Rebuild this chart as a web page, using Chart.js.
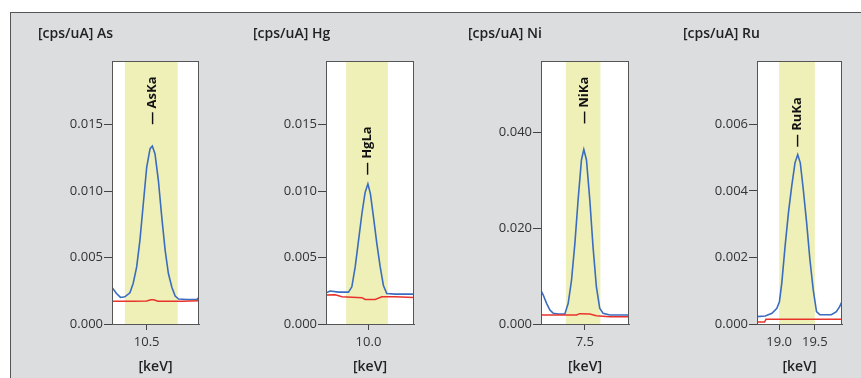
<!DOCTYPE html>
<html>
<head>
<meta charset="utf-8">
<script src="https://cdn.jsdelivr.net/npm/chart.js@4.4.1/dist/chart.umd.min.js"></script>
<style>
  html, body { margin: 0; padding: 0; background: #fff; }
  #panel {
    position: absolute; left: 10px; top: 12px; width: 851px; height: 366px;
    background: #dcdddf; border-top: 1.5px solid #555; border-left: 1.5px solid #555;
    box-sizing: border-box;
  }
  canvas { position: absolute; top: 0; }
</style>
</head>
<body>
<div id="panel"></div>
<canvas id="c0" width="215" height="378" style="left:0px"></canvas>
<canvas id="c1" width="215" height="378" style="left:215px"></canvas>
<canvas id="c2" width="215" height="378" style="left:430px"></canvas>
<canvas id="c3" width="216" height="378" style="left:645px"></canvas>
<script>
// ---- data ----
const elements = ['As', 'Hg', 'Ni', 'Ru'];
const lineNames = ['AsKa', 'HgLa', 'NiKa', 'RuKa'];
const lineEnergy = [10.54, 9.99, 7.5, 19.26];
const lineLabelAt = [0.0150, 0.0112, 0.0418, 0.00531];

const xRange = [[10.254, 10.871], [9.696, 10.326], [7.186, 7.817], [18.69, 19.88]];
const yMax = [0.0198, 0.0198, 0.055, 0.0079];
const xTicks = [[10.5], [10.0], [7.5], [19.0, 19.5]];
const yTicks = [
  [0, 0.005, 0.010, 0.015],
  [0, 0.005, 0.010, 0.015],
  [0, 0.020, 0.040],
  [0, 0.002, 0.004, 0.006]
];
const roiBand = [[10.345, 10.72], [9.84, 10.139], [7.364, 7.612], [19.0, 19.5]];

// As
const asX = [10.254, 10.286, 10.314, 10.345, 10.381, 10.404, 10.429, 10.452, 10.476, 10.5, 10.524, 10.54,
  10.559, 10.583, 10.607, 10.631, 10.654, 10.679, 10.702, 10.726, 10.786, 10.857, 10.871];
const asSample = [0.00275, 0.0023, 0.0020, 0.00205, 0.00235, 0.00305, 0.0043, 0.0063, 0.00905, 0.0118, 0.0132, 0.0134,
  0.0128, 0.0108, 0.00805, 0.00555, 0.0038, 0.00275, 0.0021, 0.00188, 0.00185, 0.00185, 0.0020];
const asBlankX = [10.254, 10.40, 10.50, 10.53, 10.55, 10.58, 10.75, 10.871];
const asBlank = [0.00172, 0.00172, 0.00173, 0.00183, 0.00183, 0.00172, 0.00172, 0.00175];

// Hg
const hgX = [9.696, 9.726, 9.786, 9.857, 9.881, 9.905, 9.929, 9.953, 9.976, 9.996, 10.014, 10.036,
  10.06, 10.084, 10.107, 10.131, 10.19, 10.326];
const hgSample = [0.00235, 0.00248, 0.0024, 0.0024, 0.0028, 0.0043, 0.0063, 0.0083, 0.0099, 0.01055, 0.0098, 0.00805,
  0.00605, 0.0043, 0.0029, 0.0023, 0.00225, 0.00225];
const hgBlankX = [9.696, 9.762, 9.81, 9.953, 9.976, 10.048, 10.096, 10.19, 10.326];
const hgBlank = [0.00218, 0.0022, 0.00205, 0.00198, 0.00185, 0.00185, 0.00205, 0.00205, 0.0020];

// Ni
const niX = [7.186, 7.202, 7.226, 7.25, 7.274, 7.309, 7.357, 7.381, 7.405, 7.429, 7.452, 7.476, 7.493,
  7.512, 7.536, 7.559, 7.583, 7.607, 7.631, 7.679, 7.817];
const niSample = [0.00697, 0.00606, 0.00432, 0.00293, 0.00223, 0.00209, 0.00209, 0.00432, 0.0092, 0.01687, 0.02593, 0.0343, 0.03652,
  0.0343, 0.02593, 0.01617, 0.0078, 0.00328, 0.00223, 0.00188, 0.00188];
const niBlankX = [7.186, 7.441, 7.464, 7.536, 7.583, 7.679, 7.817];
const niBlank = [0.00188, 0.00188, 0.00216, 0.00209, 0.00174, 0.00153, 0.00153];

// Ru
const ruX = [18.69, 18.806, 18.899, 18.968, 19.004, 19.037, 19.083, 19.13, 19.176, 19.222, 19.26, 19.296,
  19.338, 19.385, 19.431, 19.477, 19.523, 19.569, 19.731, 19.801, 19.847, 19.88];
const ruSample = [0.00022, 0.00024, 0.00032, 0.00047, 0.00067, 0.00123, 0.00233, 0.00334, 0.00414, 0.00484, 0.00509, 0.00484,
  0.00404, 0.00304, 0.00193, 0.00103, 0.00037, 0.00028, 0.00028, 0.00037, 0.00052, 0.00067];
const ruBlankX = [18.69, 18.796, 18.815, 19.88];
const ruBlank = [0.00006, 0.00006, 0.00014, 0.00014];

const sampleX = [asX, hgX, niX, ruX];
const sampleY = [asSample, hgSample, niSample, ruSample];
const blankX = [asBlankX, hgBlankX, niBlankX, ruBlankX];
const blankY = [asBlank, hgBlank, niBlank, ruBlank];

// ---- layout ----
const colLeft = [0, 215, 430, 645];
const plotLeft = [112, 326, 541, 757];
const plotRight = [199, 414, 629, 842];
const FONT = "'Open Sans', sans-serif";

const toPoints = (xs, ys) => xs.map((x, i) => ({ x, y: ys[i] }));

const panelPlugin = {
  id: 'panel',
  beforeDatasetsDraw(chart, args, opts) {
    const { ctx, chartArea: a, scales: { x } } = chart;
    ctx.save();
    ctx.fillStyle = '#ffffff';
    ctx.fillRect(a.left, a.top, a.width, a.height);
    const b0 = x.getPixelForValue(opts.band[0]);
    const b1 = x.getPixelForValue(opts.band[1]);
    ctx.fillStyle = '#eff0b8';
    ctx.fillRect(b0, a.top, b1 - b0, a.height);
    ctx.restore();
  },
  afterDatasetsDraw(chart, args, opts) {
    const { ctx, chartArea: a, scales: { x, y } } = chart;
    ctx.save();
    // frame
    ctx.strokeStyle = '#555';
    ctx.lineWidth = 1;
    ctx.strokeRect(Math.round(a.left) + 0.5, Math.round(a.top) + 0.5, Math.round(a.width) - 1, Math.round(a.height));
    // line label
    const px = x.getPixelForValue(opts.lineAt);
    const py = y.getPixelForValue(opts.labelAt);
    ctx.translate(px, py);
    ctx.rotate(-Math.PI / 2);
    ctx.fillStyle = '#111';
    ctx.font = 'bold 13px ' + FONT;
    ctx.textAlign = 'left';
    ctx.textBaseline = 'middle';
    ctx.fillText('\u2014 ' + opts.lineName, 0, 0);
    ctx.restore();
    // unit title
    ctx.save();
    ctx.fillStyle = '#222';
    ctx.font = '600 14px ' + FONT;
    ctx.textAlign = 'left';
    ctx.textBaseline = 'middle';
    ctx.fillText('[cps/uA] ' + opts.element, 38, 34);
    ctx.restore();
  }
};

for (let i = 0; i < 4; i++) {
  const canvas = document.getElementById('c' + i);
  const yw = plotLeft[i] - colLeft[i];
  const padRight = canvas.width - (plotRight[i] - colLeft[i]);
  new Chart(canvas, {
    type: 'line',
    data: {
      datasets: [
        {
          label: 'blank',
          data: toPoints(blankX[i], blankY[i]),
          borderColor: '#e8332b',
          borderWidth: 1.5,
          pointRadius: 0,
          tension: 0
        },
        {
          label: 'sample',
          data: toPoints(sampleX[i], sampleY[i]),
          borderColor: '#3a6cc0',
          borderWidth: 1.6,
          pointRadius: 0,
          tension: 0
        }
      ]
    },
    options: {
      responsive: false,
      animation: false,
      devicePixelRatio: 1,
      layout: { padding: { top: 61, left: 0, right: padRight, bottom: 0 } },
      plugins: {
        legend: { display: false },
        tooltip: { enabled: false },
        panel: {
          band: roiBand[i],
          lineAt: lineEnergy[i],
          labelAt: lineLabelAt[i],
          lineName: lineNames[i],
          element: elements[i]
        }
      },
      scales: {
        x: {
          type: 'linear',
          min: xRange[i][0],
          max: xRange[i][1],
          afterBuildTicks: s => { s.ticks = xTicks[i].map(v => ({ value: v })); },
          afterFit: s => { s.height = 54; },
          grid: { drawOnChartArea: false, tickLength: 6, color: '#444' },
          border: { display: true, color: '#555' },
          ticks: {
            padding: 4,
            color: '#333',
            font: { family: FONT, size: 13 },
            callback: v => Number(v).toFixed(1)
          },
          title: {
            display: true,
            text: '[keV]',
            color: '#222',
            font: { family: FONT, size: 14, weight: '600' },
            padding: { top: 0, bottom: 3 }
          }
        },
        y: {
          type: 'linear',
          min: 0,
          max: yMax[i],
          afterBuildTicks: s => { s.ticks = yTicks[i].map(v => ({ value: v })); },
          afterFit: s => { s.width = yw; },
          grid: { drawOnChartArea: false, tickLength: 8, color: '#444' },
          border: { display: true, color: '#555' },
          ticks: {
            padding: 1,
            color: '#333',
            font: { family: FONT, size: 13 },
            callback: v => Number(v).toFixed(3)
          }
        }
      }
    },
    plugins: [panelPlugin]
  });
}
</script>
</body>
</html>
